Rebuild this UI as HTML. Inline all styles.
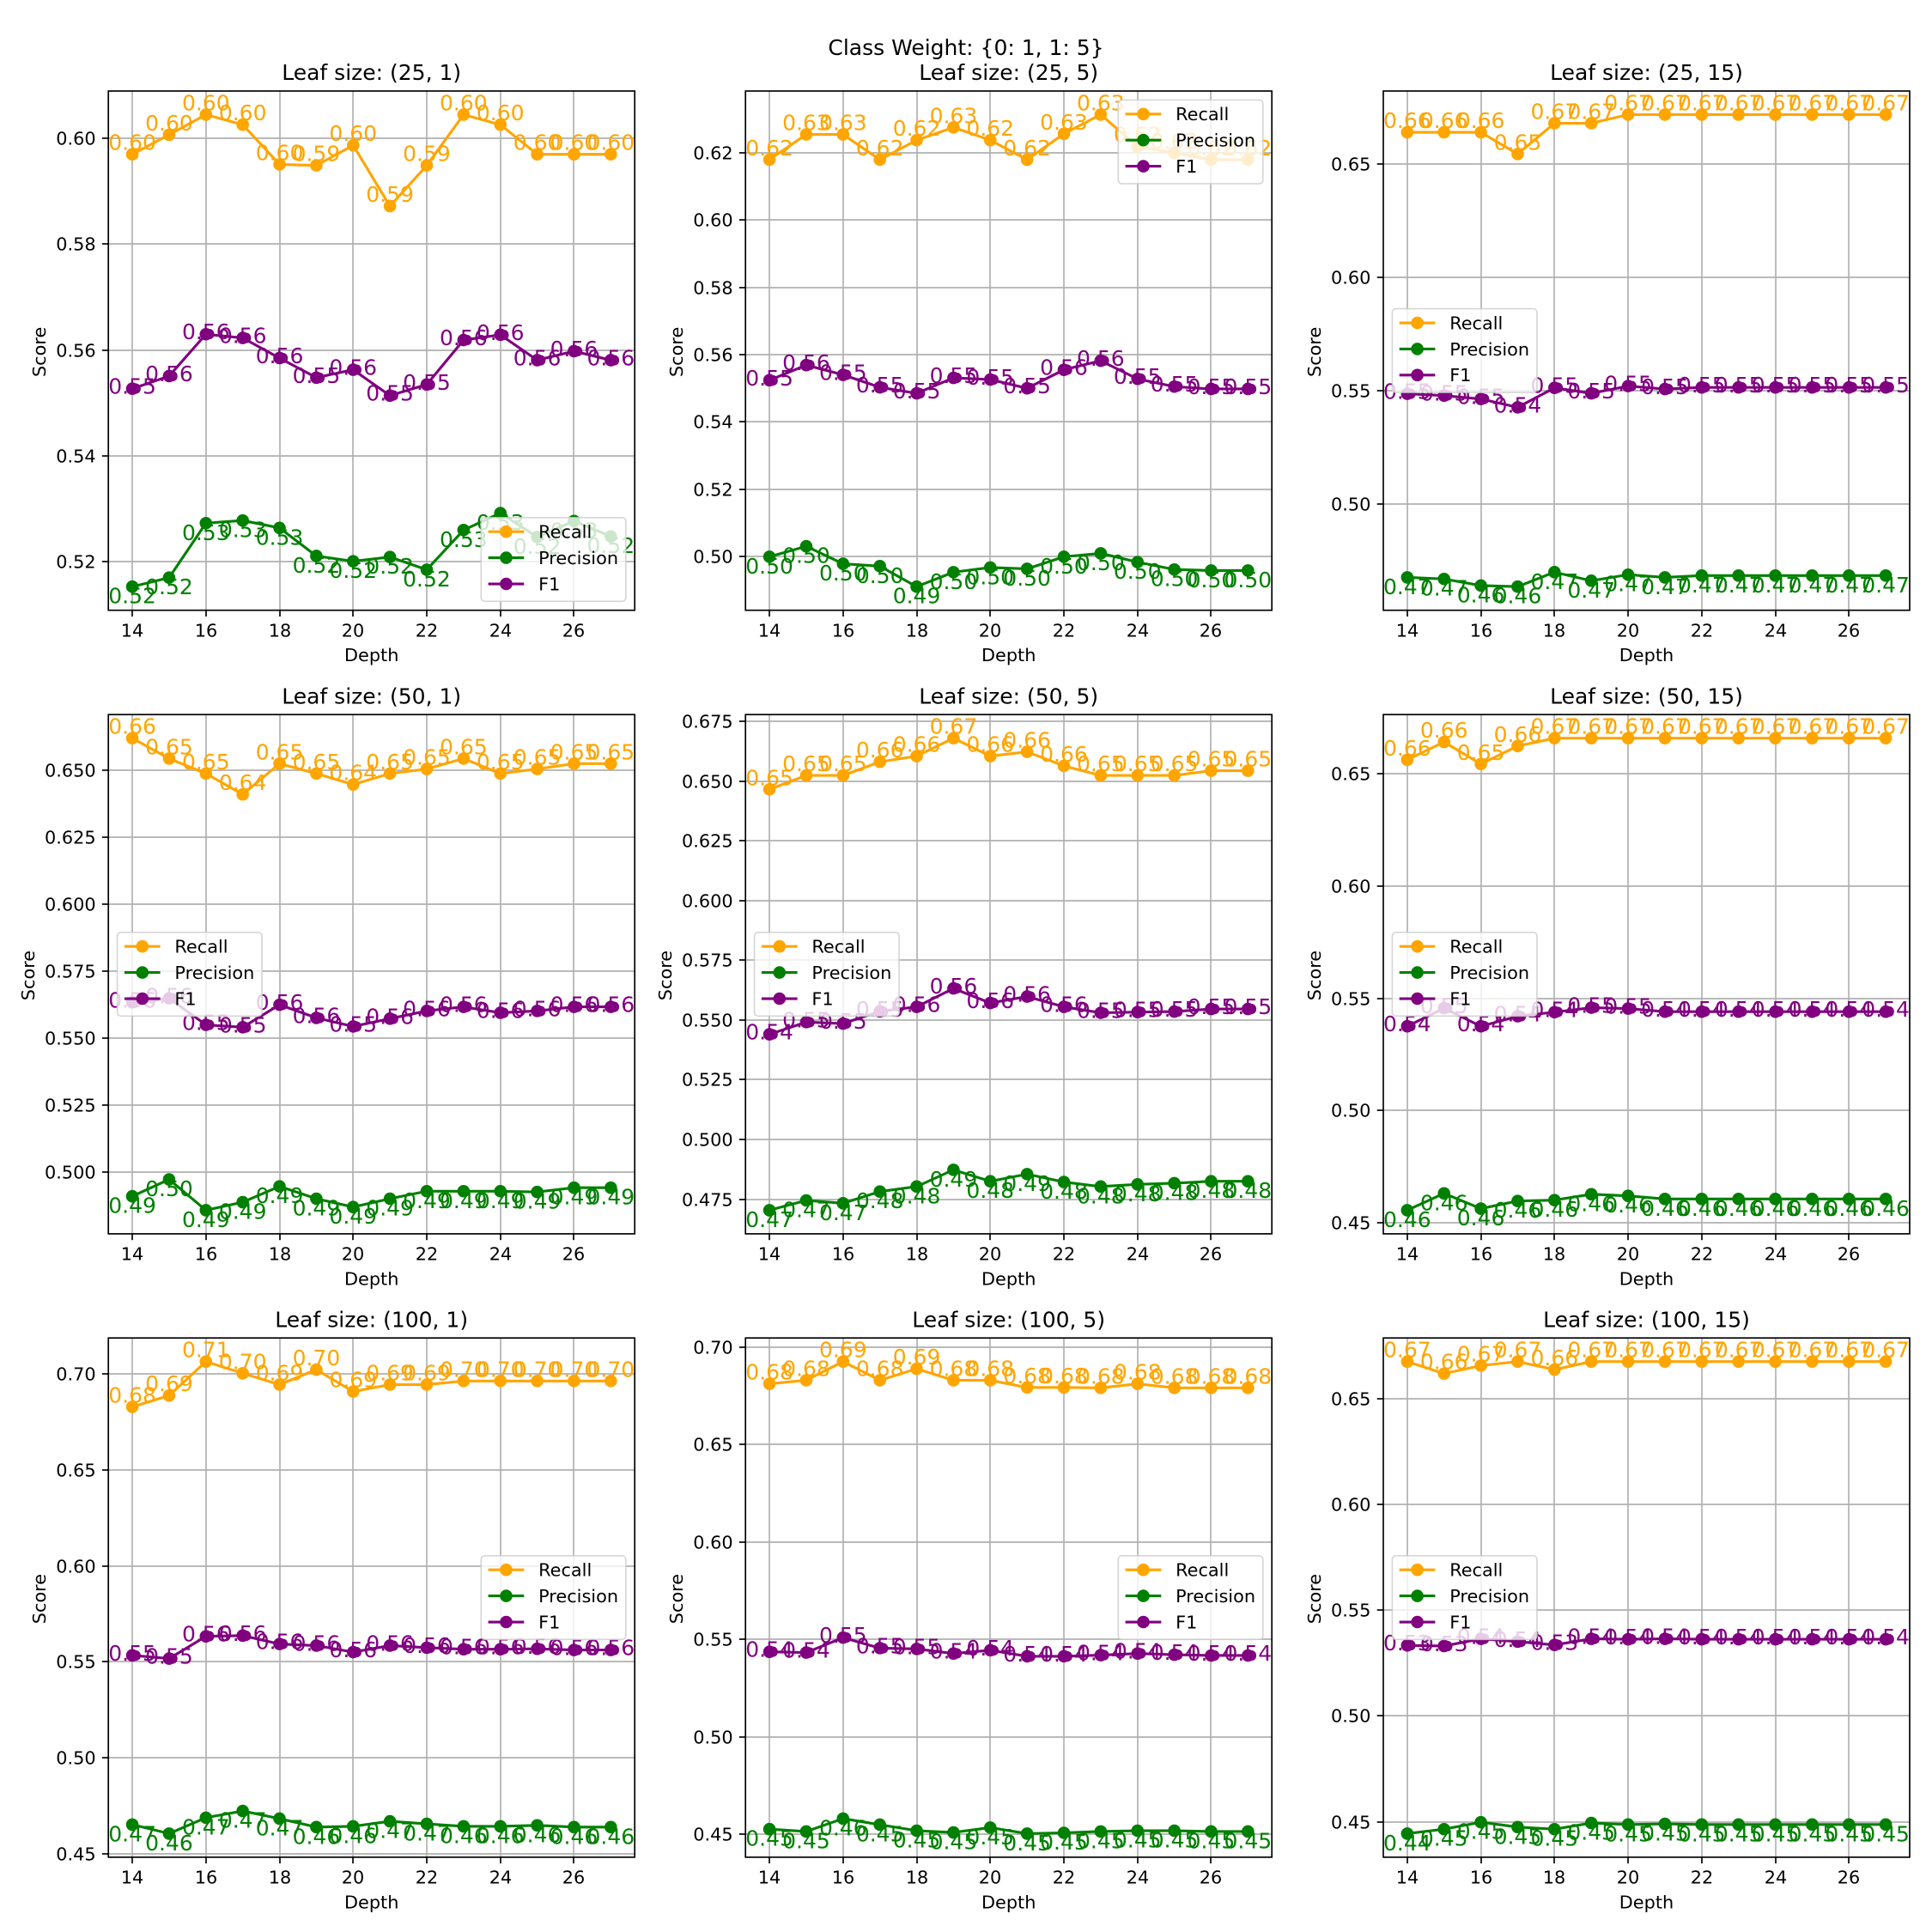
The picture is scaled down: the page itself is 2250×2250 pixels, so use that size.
<!DOCTYPE html>
<html lang="en">
<head>
<meta charset="utf-8">
<title>Class Weight: {0: 1, 1: 5}</title>
<style>
html,body{margin:0;padding:0;background:#fff;}
svg{display:block;}
text{font-family:"DejaVu Sans","Liberation Sans",sans-serif;}
</style>
</head>
<body>
<svg id="figure" xmlns="http://www.w3.org/2000/svg" width="2250" height="2250" viewBox="0 0 2250 2250">
<rect x="0" y="0" width="2250" height="2250" fill="#ffffff"/>
<text x="1125" y="64" font-size="25" text-anchor="middle" fill="#000000">Class Weight: {0: 1, 1: 5}</text>
</svg>
<script>
const depths = [14,15,16,17,18,19,20,21,22,23,24,25,26,27];
const xTicks = [14,16,18,20,22,24,26];
const seriesNames = ["Recall","Precision","F1"];
const seriesColors = ["#ffa500","#008000","#800080"];

const title_25_1 = "Leaf size: (25, 1)";
const yTicks_25_1 = ["0.52","0.54","0.56","0.58","0.60"];
const recall_25_1 = [.5970,.6007,.6045,.6026,.5951,.5949,.5987,.5872,.5949,.6045,.6026,.5970,.5970,.5970];
const precision_25_1 = [.5153,.5170,.5273,.5278,.5264,.5211,.5201,.5209,.5185,.5260,.5292,.5247,.5277,.5248];
const f1_25_1 = [.5527,.5551,.5630,.5623,.5585,.5548,.5563,.5514,.5535,.5619,.5629,.5581,.5598,.5581];
const legend_25_1 = "lower right";

const title_25_5 = "Leaf size: (25, 5)";
const yTicks_25_5 = ["0.50","0.52","0.54","0.56","0.58","0.60","0.62"];
const recall_25_5 = [.6180,.6255,.6255,.6180,.6238,.6276,.6238,.6180,.6257,.6314,.6219,.6200,.6180,.6180];
const precision_25_5 = [.4999,.5030,.4978,.4971,.4910,.4953,.4967,.4963,.4999,.5009,.4983,.4961,.4958,.4958];
const f1_25_5 = [.5524,.5569,.5540,.5503,.5485,.5531,.5526,.5500,.5555,.5582,.5528,.5505,.5498,.5498];
const legend_25_5 = "upper right";

const title_25_15 = "Leaf size: (25, 15)";
const yTicks_25_15 = ["0.50","0.55","0.60","0.65"];
const recall_25_15 = [.6641,.6641,.6641,.6545,.6681,.6681,.6719,.6719,.6719,.6719,.6719,.6719,.6719,.6719];
const precision_25_15 = [.4675,.4668,.4639,.4634,.4698,.4660,.4687,.4675,.4683,.4683,.4683,.4683,.4683,.4683];
const f1_25_15 = [.5486,.5478,.5463,.5426,.5512,.5488,.5520,.5507,.5514,.5514,.5514,.5514,.5514,.5514];
const legend_25_15 = "center left";

const title_50_1 = "Leaf size: (50, 1)";
const yTicks_50_1 = ["0.500","0.525","0.550","0.575","0.600","0.625","0.650"];
const recall_50_1 = [.6619,.6543,.6487,.6409,.6524,.6487,.6446,.6487,.6504,.6543,.6487,.6504,.6524,.6524];
const precision_50_1 = [.4909,.4972,.4857,.4887,.4946,.4900,.4869,.4900,.4928,.4928,.4928,.4925,.4941,.4941];
const f1_50_1 = [.5633,.5648,.5549,.5540,.5624,.5575,.5543,.5572,.5601,.5616,.5594,.5601,.5616,.5616];
const legend_50_1 = "center left";

const title_50_5 = "Leaf size: (50, 5)";
const yTicks_50_5 = ["0.475","0.500","0.525","0.550","0.575","0.600","0.625","0.650","0.675"];
const recall_50_5 = [.6465,.6523,.6523,.6580,.6604,.6679,.6604,.6622,.6563,.6523,.6523,.6523,.6543,.6543];
const precision_50_5 = [.4704,.4745,.4733,.4782,.4803,.4873,.4825,.4855,.4822,.4803,.4812,.4817,.4825,.4825];
const f1_50_5 = [.5440,.5491,.5485,.5536,.5555,.5632,.5571,.5598,.5555,.5530,.5533,.5535,.5546,.5546];
const legend_50_5 = "center left";

const title_50_15 = "Leaf size: (50, 15)";
const yTicks_50_15 = ["0.45","0.50","0.55","0.60","0.65"];
const recall_50_15 = [.6562,.6641,.6543,.6623,.6658,.6658,.6658,.6658,.6658,.6658,.6658,.6658,.6658,.6658];
const precision_50_15 = [.4556,.4631,.4563,.4597,.4601,.4627,.4620,.4606,.4606,.4606,.4606,.4606,.4606,.4606];
const f1_50_15 = [.5375,.5456,.5375,.5420,.5438,.5458,.5454,.5440,.5440,.5440,.5440,.5440,.5440,.5440];
const legend_50_15 = "center left";

const title_100_1 = "Leaf size: (100, 1)";
const yTicks_100_1 = ["0.45","0.50","0.55","0.60","0.65","0.70"];
const recall_100_1 = [.6829,.6888,.7065,.7004,.6945,.7023,.6909,.6945,.6945,.6964,.6964,.6964,.6964,.6964];
const precision_100_1 = [.4652,.4605,.4688,.4723,.4683,.4639,.4643,.4669,.4656,.4643,.4643,.4648,.4639,.4639];
const f1_100_1 = [.5534,.5517,.5633,.5637,.5593,.5585,.5551,.5585,.5574,.5566,.5566,.5568,.5562,.5562];
const legend_100_1 = "center right";

const title_100_5 = "Leaf size: (100, 5)";
const yTicks_100_5 = ["0.45","0.50","0.55","0.60","0.65","0.70"];
const recall_100_5 = [.6813,.6831,.6927,.6831,.6890,.6831,.6831,.6794,.6794,.6792,.6813,.6792,.6792,.6792];
const precision_100_5 = [.4525,.4513,.4579,.4548,.4517,.4508,.4533,.4502,.4506,.4513,.4517,.4517,.4513,.4513];
const f1_100_5 = [.5436,.5432,.5509,.5455,.5451,.5427,.5444,.5413,.5413,.5419,.5427,.5421,.5417,.5417];
const legend_100_5 = "center right";

const title_100_15 = "Leaf size: (100, 15)";
const yTicks_100_15 = ["0.45","0.50","0.55","0.60","0.65"];
const recall_100_15 = [.6676,.6619,.6657,.6676,.6638,.6676,.6676,.6676,.6676,.6676,.6676,.6676,.6676,.6676];
const precision_100_15 = [.4444,.4465,.4498,.4475,.4465,.4494,.4487,.4490,.4487,.4487,.4487,.4487,.4487,.4487];
const f1_100_15 = [.5334,.5331,.5365,.5352,.5336,.5365,.5363,.5365,.5363,.5363,.5363,.5363,.5363,.5363];
const legend_100_15 = "center left";

const panelTitles = [title_25_1,title_25_5,title_25_15,title_50_1,title_50_5,title_50_15,title_100_1,title_100_5,title_100_15];
const panelYTicks = [yTicks_25_1,yTicks_25_5,yTicks_25_15,yTicks_50_1,yTicks_50_5,yTicks_50_15,yTicks_100_1,yTicks_100_5,yTicks_100_15];
const panelRecall = [recall_25_1,recall_25_5,recall_25_15,recall_50_1,recall_50_5,recall_50_15,recall_100_1,recall_100_5,recall_100_15];
const panelPrecision = [precision_25_1,precision_25_5,precision_25_15,precision_50_1,precision_50_5,precision_50_15,precision_100_1,precision_100_5,precision_100_15];
const panelF1 = [f1_25_1,f1_25_5,f1_25_15,f1_50_1,f1_50_5,f1_50_15,f1_100_1,f1_100_5,f1_100_15];
const panelLegends = [legend_25_1,legend_25_5,legend_25_15,legend_50_1,legend_50_5,legend_50_15,legend_100_1,legend_100_5,legend_100_15];

const NS = "http://www.w3.org/2000/svg";
const figure = document.getElementById("figure");

function make(parent, tag, attrs, content) {
  const node = document.createElementNS(NS, tag);
  for (const key in attrs) node.setAttribute(key, attrs[key]);
  if (content !== undefined) node.textContent = content;
  parent.appendChild(node);
  return node;
}

const columnLefts = [126.2, 868.2, 1611];
const rowTops = [106, 832.2, 1558.2];
const axesWidth = 613;
const axesHeight = 604.7;
const labelOffsets = [-5, 19.5, 6];
const legendWidth = 168.5;
const legendHeight = 97.5;
const legendGap = 10.4;

function drawPanel(index) {
  const left = columnLefts[index % 3];
  const top = rowTops[Math.floor(index / 3)];
  const right = left + axesWidth;
  const bottom = top + axesHeight;
  const seriesValues = [panelRecall[index], panelPrecision[index], panelF1[index]];

  const xRange = depths[depths.length - 1] - depths[0];
  const xMin = depths[0] - xRange * 0.05;
  const xMax = depths[depths.length - 1] + xRange * 0.05;
  const allValues = seriesValues.flat();
  const dataMin = Math.min.apply(null, allValues);
  const dataMax = Math.max.apply(null, allValues);
  const yMin = dataMin - (dataMax - dataMin) * 0.05;
  const yMax = dataMax + (dataMax - dataMin) * 0.05;
  const xScale = function (v) { return left + (v - xMin) / (xMax - xMin) * axesWidth; };
  const yScale = function (v) { return bottom - (v - yMin) / (yMax - yMin) * axesHeight; };

  const panel = make(figure, "g", {});
  
  

  const background = make(panel, "rect", {x:left, y:top, width:axesWidth, height:axesHeight, fill:"#ffffff"});
  
  

  const plotTitle = make(panel, "text", {x:left + axesWidth / 2, y:top - 12.8, "font-size":25, "text-anchor":"middle", fill:"#000"}, panelTitles[index]);
  
  

  xTicks.forEach(function (tick) {
    const x = Math.round(xScale(tick));
    const grid = make(panel, "line", {x1:x, x2:x, y1:top, y2:bottom, stroke:"#b0b0b0", "stroke-width":1.67});
    
    
    const mark = make(panel, "line", {x1:x, x2:x, y1:bottom, y2:bottom + 7.3, stroke:"#000", "stroke-width":1.67});
    
    
    const label = make(panel, "text", {x:x, y:bottom + 30.6, "font-size":20.83, "text-anchor":"middle", fill:"#000"}, String(tick));
    
    
  });

  let longestTick = 0;
  panelYTicks[index].forEach(function (tick) {
    const y = Math.round(yScale(parseFloat(tick)));
    longestTick = Math.max(longestTick, tick.length);
    const grid = make(panel, "line", {x1:left, x2:right, y1:y, y2:y, stroke:"#b0b0b0", "stroke-width":1.67});
    
    
    const mark = make(panel, "line", {x1:left - 7.3, x2:left, y1:y, y2:y, stroke:"#000", "stroke-width":1.67});
    
    
    const label = make(panel, "text", {x:left - 14.6, y:y + 7.6, "font-size":20.83, "text-anchor":"end", fill:"#000"}, tick);
    
    
  });

  seriesValues.forEach(function (values, s) {
    const points = values.map(function (v, i) { return xScale(depths[i]).toFixed(2) + "," + yScale(v).toFixed(2); }).join(" ");
    const line = make(panel, "polyline", {points:points, fill:"none", stroke:seriesColors[s], "stroke-width":3.125, "stroke-linejoin":"round", "data-series":seriesNames[s]});
    
    
    values.forEach(function (v, i) {
      const dot = make(panel, "circle", {cx:xScale(depths[i]), cy:yScale(v), r:7.3, fill:seriesColors[s], "data-series":seriesNames[s]});
      
      
    });
  });

  const frame = make(panel, "rect", {x:left, y:top, width:axesWidth, height:axesHeight, fill:"none", stroke:"#000", "stroke-width":1.67});
  
  

  seriesValues.forEach(function (values, s) {
    values.forEach(function (v, i) {
      const label = make(panel, "text", {x:xScale(depths[i]), y:yScale(v) + labelOffsets[s], "font-size":25, "text-anchor":"middle", fill:seriesColors[s], "data-series":seriesNames[s]}, v.toFixed(2));
      
      
    });
  });

  const xTitle = make(panel, "text", {x:left + axesWidth / 2, y:bottom + 59.5, "font-size":20.83, "text-anchor":"middle", fill:"#000"}, "Depth");
  
  

  const yTitleX = left - 73 - (longestTick - 4) * 13.2;
  const yTitleY = top + axesHeight / 2 + 1.5;
  const yTitle = make(panel, "text", {x:yTitleX, y:yTitleY, transform:"rotate(-90 " + yTitleX + " " + yTitleY + ")", "font-size":20.83, "text-anchor":"middle", fill:"#000"}, "Score");
  
  

  const place = panelLegends[index];
  let boxX = left + legendGap;
  if (place.indexOf("right") >= 0) boxX = right - legendGap - legendWidth;
  let boxY = top + axesHeight / 2 - legendHeight / 2;
  if (place.indexOf("upper") >= 0) boxY = top + legendGap;
  if (place.indexOf("lower") >= 0) boxY = bottom - legendGap - legendHeight;

  const legend = make(panel, "g", {});
  
  
  const legendBox = make(legend, "rect", {x:boxX, y:boxY, width:legendWidth, height:legendHeight, rx:4.2, ry:4.2, fill:"#ffffff", "fill-opacity":0.8, stroke:"#cccccc", "stroke-opacity":0.8, "stroke-width":1.67});
  
  
  seriesNames.forEach(function (name, s) {
    const y = boxY + 16.4 + s * 30.4;
    const entry = make(legend, "g", {"data-series":name});
    
    
    const handle = make(entry, "line", {x1:boxX + 8.3, x2:boxX + 50, y1:y, y2:y, stroke:seriesColors[s], "stroke-width":3.125});
    
    
    const marker = make(entry, "circle", {cx:boxX + 29.2, cy:y, r:7.3, fill:seriesColors[s]});
    
    
    const label = make(entry, "text", {x:boxX + 66.8, y:y + 7.4, "font-size":20.83, fill:"#000"}, name);
    
    
  });
}

panelTitles.forEach(function (title, index) { drawPanel(index); });
</script>
</body>
</html>
